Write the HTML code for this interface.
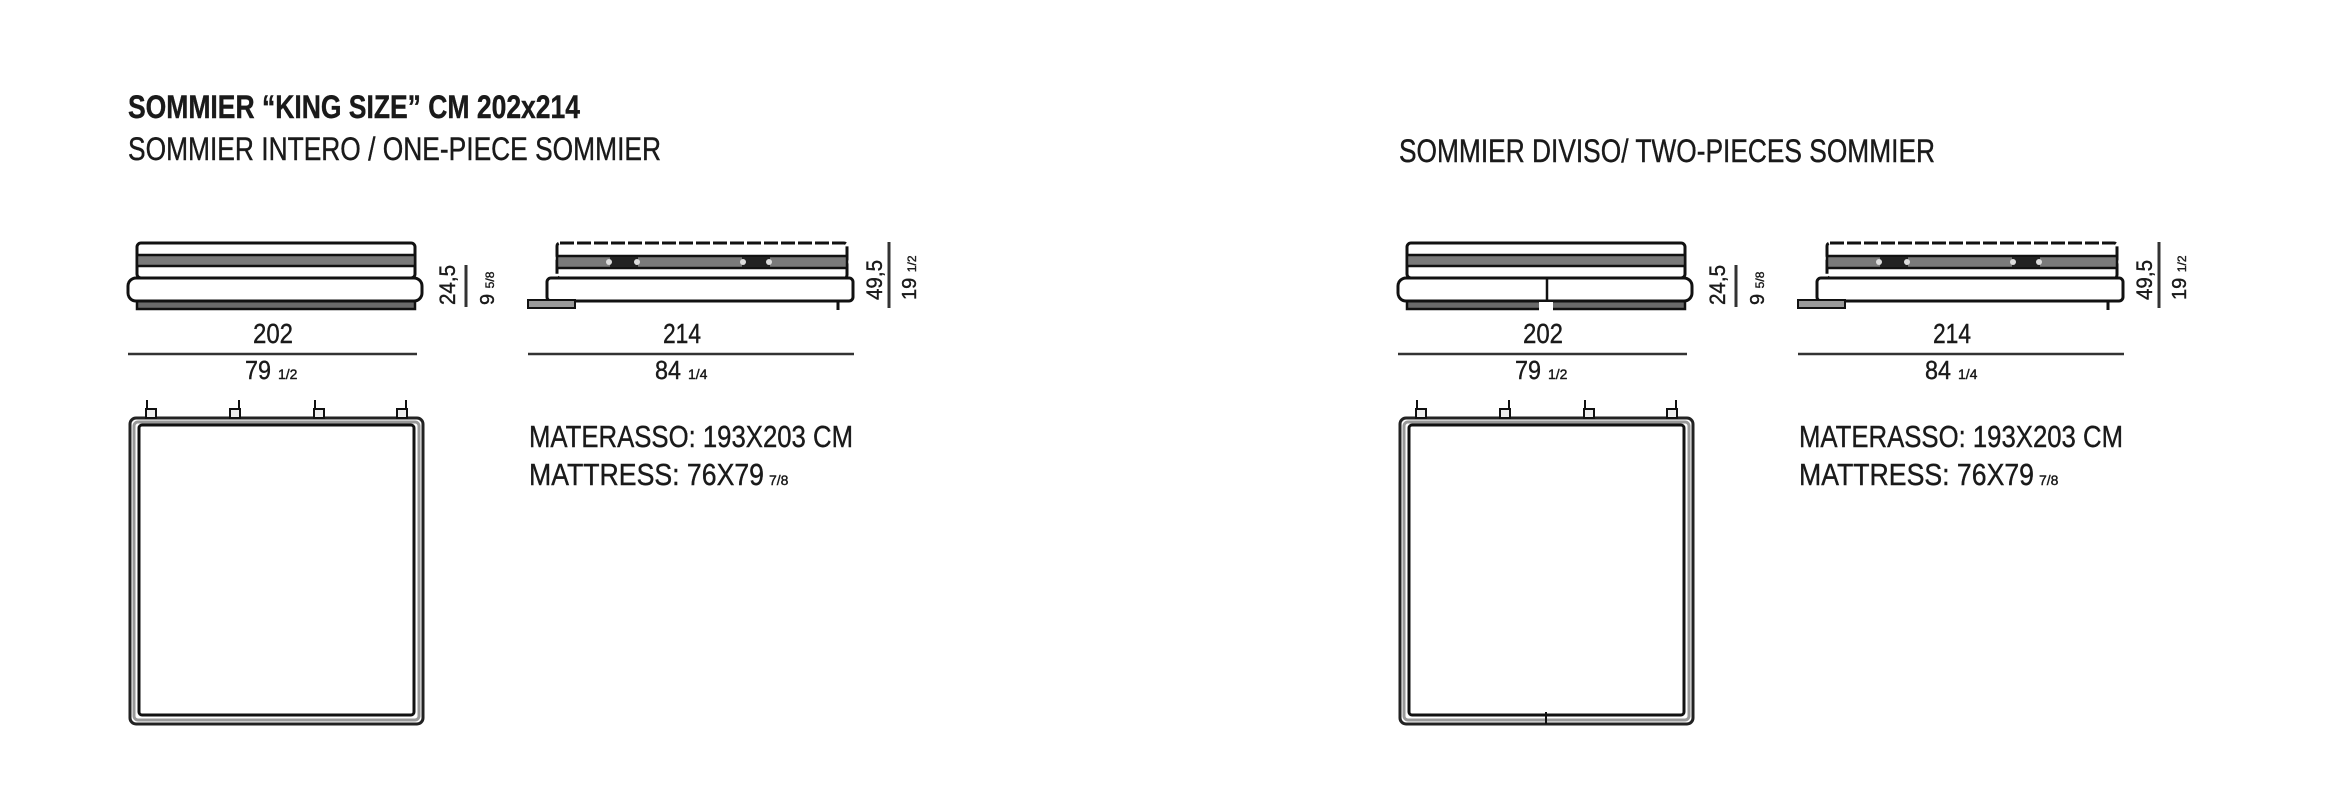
<!DOCTYPE html>
<html><head><meta charset="utf-8"><style>
html,body{margin:0;padding:0;background:#fff;}
svg{display:block;}
text{font-family:"Liberation Sans Narrow","Liberation Sans",sans-serif;fill:#1a1a1a;stroke:#1a1a1a;stroke-width:0.4;}
</style></head><body>
<svg width="2328" height="800" viewBox="0 0 2328 800" xmlns="http://www.w3.org/2000/svg">
<defs>
<g id="draw">
  <!-- front view -->
  <rect x="137" y="243" width="278" height="35" rx="4" fill="#fff" stroke="#111" stroke-width="3"/>
  <rect x="137" y="255" width="278" height="11" fill="#7a7a7a" stroke="#111" stroke-width="2.5"/>
  <rect x="137" y="298" width="278" height="11" fill="#6a6a6a" stroke="#111" stroke-width="2.5"/>
  <rect x="128" y="278" width="294" height="23" rx="8" fill="#fff" stroke="#111" stroke-width="3"/>
  <line x1="466" y1="265" x2="466" y2="307" stroke="#333" stroke-width="3"/>
  <text transform="translate(455,305) rotate(-90)" font-size="22" textLength="40" lengthAdjust="spacingAndGlyphs">24,5</text>
  <text transform="translate(494,305) rotate(-90)" font-size="20">9 <tspan font-size="12">5/8</tspan></text>
  <text x="273" y="343" font-size="28" text-anchor="middle" textLength="40" lengthAdjust="spacingAndGlyphs">202</text>
  <line x1="128" y1="354" x2="417" y2="354" stroke="#333" stroke-width="2.5"/>
  <text x="245" y="379" font-size="26" textLength="26" lengthAdjust="spacingAndGlyphs">79</text>
  <text x="278" y="379" font-size="14">1/2</text>
  <!-- side view -->
  <rect x="557" y="243" width="290" height="35" rx="3" fill="#fff" stroke="#111" stroke-width="3" stroke-dasharray="14 3"/>
  <rect x="557" y="256" width="290" height="12" fill="#7a7a7a" stroke="#111" stroke-width="2.5"/>
  <rect x="610" y="257" width="28" height="10" fill="#222"/><rect x="742" y="257" width="28" height="10" fill="#222"/>
  <circle cx="609" cy="262" r="3" fill="#ddd"/><circle cx="637" cy="262" r="3" fill="#ddd"/>
  <circle cx="743" cy="262" r="3" fill="#ddd"/><circle cx="769" cy="262" r="3" fill="#ddd"/>
  <rect x="547" y="278" width="306" height="23" rx="4" fill="#fff" stroke="#111" stroke-width="3"/>
  <rect x="528" y="300" width="47" height="8" fill="#999" stroke="#111" stroke-width="2"/>
  <line x1="838" y1="301" x2="838" y2="310" stroke="#111" stroke-width="3"/>
  <line x1="889" y1="242" x2="889" y2="308" stroke="#333" stroke-width="3"/>
  <text transform="translate(882,300) rotate(-90)" font-size="22" textLength="40" lengthAdjust="spacingAndGlyphs">49,5</text>
  <text transform="translate(916,300) rotate(-90)" font-size="20">19 <tspan font-size="12">1/2</tspan></text>
  <text x="682" y="343" font-size="28" text-anchor="middle" textLength="38" lengthAdjust="spacingAndGlyphs">214</text>
  <line x1="528" y1="354" x2="854" y2="354" stroke="#333" stroke-width="2.5"/>
  <text x="655" y="379" font-size="26" textLength="26" lengthAdjust="spacingAndGlyphs">84</text>
  <text x="688" y="379" font-size="14">1/4</text>
  <!-- text -->
  <text x="529" y="447" font-size="31" textLength="324" lengthAdjust="spacingAndGlyphs">MATERASSO: 193X203 CM</text>
  <text x="529" y="485" font-size="31" textLength="235" lengthAdjust="spacingAndGlyphs">MATTRESS: 76X79</text>
  <text x="769" y="485" font-size="14">7/8</text>
  <!-- top view -->
  <rect x="130" y="418" width="293" height="306" rx="6" fill="#fff" stroke="#222" stroke-width="3"/>
  <rect x="134" y="422" width="285" height="298" rx="4" fill="none" stroke="#999" stroke-width="3"/>
  <rect x="139" y="425" width="275" height="290" rx="3" fill="#fff" stroke="#111" stroke-width="3"/>
  <g fill="#eee" stroke="#111" stroke-width="2">
    <rect x="146" y="409" width="10" height="9"/><line x1="147" y1="400" x2="147" y2="409"/>
    <rect x="230" y="409" width="10" height="9"/><line x1="239" y1="400" x2="239" y2="409"/>
    <rect x="314" y="409" width="10" height="9"/><line x1="315" y1="400" x2="315" y2="409"/>
    <rect x="397" y="409" width="10" height="9"/><line x1="406" y1="400" x2="406" y2="409"/>
  </g>
</g>
</defs>
<text x="128" y="118" font-size="32" font-weight="bold" textLength="452" lengthAdjust="spacingAndGlyphs">SOMMIER “KING SIZE” CM 202x214</text>
<text x="128" y="160" font-size="32" textLength="533" lengthAdjust="spacingAndGlyphs">SOMMIER INTERO / ONE-PIECE SOMMIER</text>
<text x="1399" y="162" font-size="32" textLength="536" lengthAdjust="spacingAndGlyphs">SOMMIER DIVISO/ TWO-PIECES SOMMIER</text>
<use href="#draw"/>
<g transform="translate(1270,0)">
  <use href="#draw"/>
  <line x1="277" y1="279" x2="277" y2="300" stroke="#111" stroke-width="2.5"/>
  <rect x="269" y="302" width="14" height="9" fill="#fff"/>
  <line x1="276" y1="712" x2="276" y2="724" stroke="#111" stroke-width="2"/>
</g>
</svg>
</body></html>
